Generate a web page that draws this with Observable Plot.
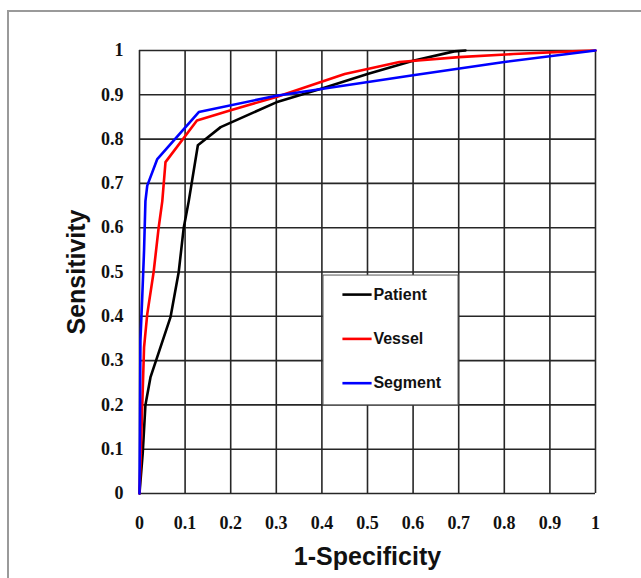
<!DOCTYPE html>
<html><head><meta charset="utf-8">
<script src="https://cdn.jsdelivr.net/npm/d3@7"></script>
<script src="https://cdn.jsdelivr.net/npm/@observablehq/plot@0.6"></script>
<style>
body{margin:0;background:#fff;}
#wrap{position:relative;width:641px;height:578px;overflow:hidden;}
#frame{position:absolute;left:7px;top:10px;width:700px;height:700px;border:2px solid #9a9a9a;box-sizing:border-box;}
#chart{position:absolute;left:0;top:0;}
</style></head>
<body>
<div id="wrap"><div id="frame"></div><div id="chart"></div></div>
<script>
const seriesNames = ["Patient", "Vessel", "Segment"];
const seriesColors = ["#000000", "#ff0000", "#0000ff"];
const patientFPR = [0,0.007,0.013,0.024,0.068,0.086,0.097,0.108,0.128,0.178,0.3,0.4,0.5,0.6,0.69,0.715];
const patientTPR = [0,0.09,0.2,0.262,0.398,0.5,0.6,0.66,0.786,0.827,0.883,0.914,0.947,0.977,0.998,1];
const vesselFPR = [0,0.004,0.01,0.017,0.031,0.042,0.05,0.057,0.126,0.2,0.3,0.45,0.57,0.7,0.82,0.95,1];
const vesselTPR = [0,0.13,0.33,0.405,0.5,0.6,0.66,0.748,0.842,0.865,0.895,0.947,0.974,0.985,0.992,0.998,1];
const segmentFPR = [0,0.001,0.002,0.006,0.01,0.013,0.017,0.039,0.13,0.3,0.6,0.8,1];
const segmentTPR = [0,0.14,0.345,0.443,0.549,0.66,0.695,0.755,0.861,0.898,0.944,0.974,1];
const tickValues = [0,0.1,0.2,0.3,0.4,0.5,0.6,0.7,0.8,0.9,1];
const xTitle = "1-Specificity";
const yTitle = "Sensitivity";

const rows = [];
[[patientFPR, patientTPR], [vesselFPR, vesselTPR], [segmentFPR, segmentTPR]].forEach(([xs, ys], i) => {
  xs.forEach((x, j) => rows.push({series: seriesNames[i], x, y: ys[j]}));
});
const legendRows = seriesNames.map((s, i) => ({series: s, y: 0.449 - i * 0.1}));
const fmt = d => d === 0 ? "0" : d === 1 ? "1" : String(d);

const chart = Plot.plot({
  width: 641, height: 578,
  marginLeft: 139, marginRight: 46, marginTop: 50, marginBottom: 85,
  style: {background: "transparent", overflow: "visible"},
  x: {domain: [0, 1]},
  y: {domain: [0, 1]},
  color: {domain: seriesNames, range: seriesColors},
  marks: [
    Plot.gridX(tickValues, {stroke: "#262626", strokeOpacity: 1, strokeWidth: 1.6}),
    Plot.gridY(tickValues, {stroke: "#262626", strokeOpacity: 1, strokeWidth: 1.6}),
    Plot.axisX(tickValues, {tickSize: 0, tickPadding: 23, tickFormat: fmt, label: null,
      fontFamily: "Liberation Serif, serif", fontWeight: "bold", fontSize: 18, fill: "#111"}),
    Plot.axisY(tickValues, {tickSize: 0, tickPadding: 16, tickFormat: fmt, label: null,
      fontFamily: "Liberation Serif, serif", fontWeight: "bold", fontSize: 18, fill: "#111"}),
    Plot.line(rows, {x: "x", y: "y", stroke: "series", z: "series", strokeWidth: 2.6, curve: "linear"}),
    Plot.rect([0], {x1: 0.4035, x2: 0.6996, y1: 0.199, y2: 0.492, fill: "white", stroke: "#555", strokeWidth: 1}),
    Plot.link(legendRows, {x1: 0.445, x2: 0.509, y1: "y", y2: "y", stroke: "series", strokeWidth: 2.6}),
    Plot.text(legendRows, {x: 0.513, y: "y", text: "series", textAnchor: "start", fill: "#111",
      fontFamily: "Liberation Sans, Arial, sans-serif", fontWeight: "bold", fontSize: 16}),
    Plot.text([xTitle], {frameAnchor: "bottom", dy: 71, text: d => d, fill: "#111",
      fontFamily: "Liberation Sans, Arial, sans-serif", fontWeight: "bold", fontSize: 25}),
    Plot.text([yTitle], {frameAnchor: "left", dx: -63, rotate: -90, textAnchor: "middle", text: d => d, fill: "#111",
      fontFamily: "Liberation Sans, Arial, sans-serif", fontWeight: "bold", fontSize: 25})
  ]
});
document.getElementById("chart").appendChild(chart);
</script>
</body></html>
